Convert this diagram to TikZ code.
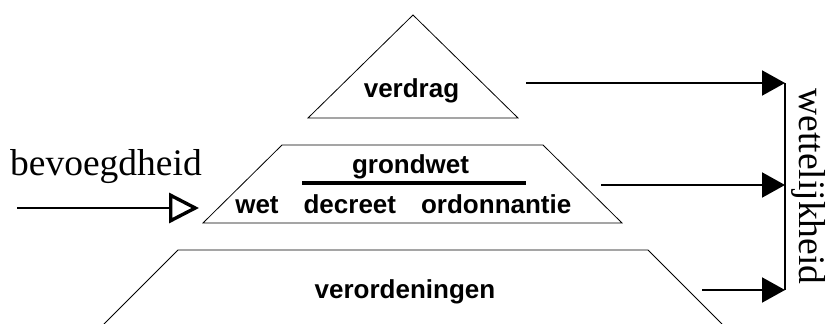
\documentclass[tikz,border=0pt]{standalone}
\usepackage{fontspec}
\setmainfont{Liberation Serif}
\newfontfamily\labelfont{Liberation Sans}
\usetikzlibrary{arrows.meta}

\tikzset{
  tier/.style={draw=black, line width=0.8pt, line join=miter},
  tiertext/.style={font=\labelfont\bfseries\fontsize{26}{26}\selectfont, inner sep=0pt, anchor=base},
  bigtext/.style={font=\fontsize{37.5}{37.5}\selectfont, inner sep=0pt},
  feed/.style={draw=black, line width=2pt, -{Triangle[length=23pt,width=25pt]}},
  inflow/.style={draw=black, line width=2pt, -{Triangle[open,length=30pt,width=30pt,line width=3.4pt]}},
}

\begin{document}
\begin{tikzpicture}[x=1pt, y=-1pt]
  \useasboundingbox (0,0) rectangle (828,324);

  % the three tiers of the pyramid
  \draw[tier] (308,118) -- (413,15) -- (518,118) -- cycle;
  \draw[tier] (203,223) -- (282,145) -- (543,145) -- (622,223) -- cycle;
  \draw[tier] (104,324) -- (178,250) -- (648,250) -- (722,324);

  % tier labels
  \node[tiertext] (verdrag) at (411.5,97.3) {verdrag};
  \node[tiertext] (grondwet) at (410.5,173.3) {grondwet};
  \node[tiertext] (wetten) at (403.3,213.3) {wet\hspace{25pt}decreet\hspace{25pt}ordonnantie};
  \node[tiertext] (verord) at (405,298.3) {verordeningen};

  % rule separating the constitution from ordinary legislation
  \coordinate (sepL) at (302,183);
  \coordinate (sepR) at (526,183);
  \draw[line width=4pt] (sepL) -- (sepR);

  % competence arrow entering the pyramid
  \node[bigtext, anchor=base west] (bevoegd) at (10,175) {bevoegdheid};
  \coordinate (inStart) at (17,208);
  \coordinate (inEnd) at (199,208);
  \draw[inflow] (inStart) -- (inEnd);

  % legality collector on the right
  \coordinate (busTop) at (785,83);
  \coordinate (busMid) at (785,185);
  \coordinate (busBot) at (785,290);
  \coordinate (fromTop) at (526,83);
  \coordinate (fromMid) at (601,185);
  \coordinate (fromBot) at (702,290);
  \draw[line width=2pt] (busTop) -- (busBot);
  \draw[feed] (fromTop) -- (busTop);
  \draw[feed] (fromMid) -- (busMid);
  \draw[feed] (fromBot) -- (busBot);

  \node[bigtext, rotate=-90, anchor=base west] (wettelijk) at (799.5,88.3) {wettelijkheid};
\end{tikzpicture}
\end{document}
